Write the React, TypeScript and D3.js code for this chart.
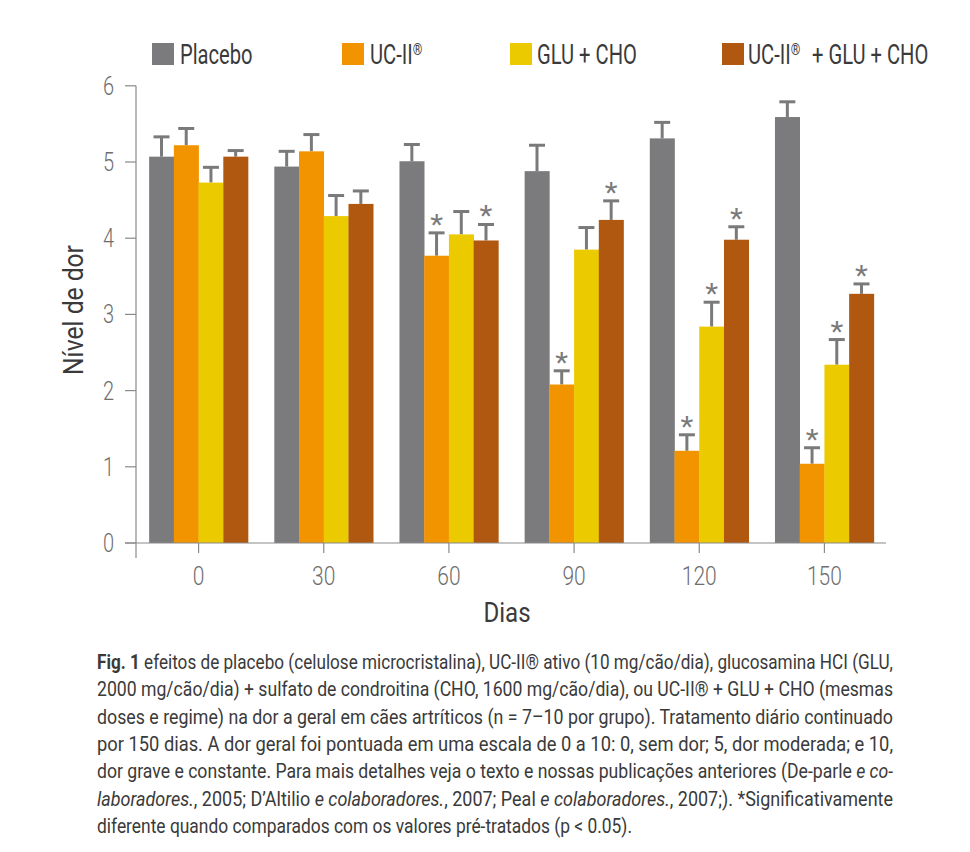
import React from "react";
import * as d3 from "d3";

const days = ["0", "30", "60", "90", "120", "150"];
const seriesNames = ["Placebo", "UC-II®", "GLU+CHO", "UC-II®  +GLU+CHO"];
const placebo = [5.07, 4.94, 5.01, 4.88, 5.31, 5.59];
const placeboErr = [0.26, 0.2, 0.22, 0.34, 0.21, 0.2];
const ucii = [5.22, 5.14, 3.77, 2.08, 1.21, 1.04];
const uciiErr = [0.22, 0.22, 0.3, 0.18, 0.21, 0.21];
const gluCho = [4.73, 4.29, 4.05, 3.85, 2.84, 2.34];
const gluChoErr = [0.2, 0.27, 0.3, 0.29, 0.32, 0.33];
const combo = [5.07, 4.45, 3.97, 4.24, 3.98, 3.27];
const comboErr = [0.08, 0.17, 0.21, 0.25, 0.17, 0.13];
const placeboSig = [false, false, false, false, false, false];
const uciiSig = [false, false, true, true, true, true];
const gluChoSig = [false, false, false, false, true, true];
const comboSig = [false, false, true, true, true, true];
const yTicks = [0, 1, 2, 3, 4, 5, 6];
const colors = ["#7b7b7d", "#f29400", "#ecca00", "#b0580f"];

const seriesValues = [placebo, ucii, gluCho, combo];
const seriesErrs = [placeboErr, uciiErr, gluChoErr, comboErr];
const seriesSig = [placeboSig, uciiSig, gluChoSig, comboSig];

const FONT = "Roboto, 'Liberation Sans', sans-serif";
const SX = 0.72;

function CText({ x, y, sx = SX, anchor = "start", rotate = 0, children, ...rest }: any) {
  return (
    <text
      transform={`translate(${x},${y}) rotate(${rotate}) scale(${sx},1)`}
      textAnchor={anchor}
      fontFamily={FONT}
      {...rest}
    >
      {children}
    </text>
  );
}

const captionLines: { parts: { t: string; b?: boolean; i?: boolean }[]; w: number }[] = [
  { parts: [{ t: "Fig. 1", b: true }, { t: " efeitos de placebo (celulose microcristalina), UC-II® ativo (10 mg/cão/dia), glucosamina HCI (GLU," }], w: 796 },
  { parts: [{ t: "2000 mg/cão/dia) + sulfato de condroitina (CHO, 1600 mg/cão/dia), ou UC-II® + GLU + CHO (mesmas" }], w: 796 },
  { parts: [{ t: "doses e regime) na dor a geral em cães artríticos (n = 7–10 por grupo). Tratamento diário continuado" }], w: 796 },
  { parts: [{ t: "por 150 dias. A dor geral foi pontuada em uma escala de 0 a 10: 0, sem dor; 5, dor moderada; e 10," }], w: 796 },
  { parts: [{ t: "dor grave e constante. Para mais detalhes veja o texto e nossas publicações anteriores (De-parle " }, { t: "e co-", i: true }], w: 796 },
  { parts: [{ t: "laboradores.", i: true }, { t: ", 2005; D’Altilio " }, { t: "e colaboradores.", i: true }, { t: ", 2007; Peal " }, { t: "e colaboradores.", i: true }, { t: ", 2007;). *Significativamente" }], w: 796 },
  { parts: [{ t: "diferente quando comparados com os valores pré-tratados (p < 0.05)." }], w: 535 },
];
const CAP_SX = 0.84;

export default function App() {
  const W = 970, H = 852;
  const x0 = d3.scaleBand<string>().domain(days).range([136, 887]).paddingInner(0.21).paddingOuter(0.105);
  const x1 = d3.scaleBand<number>().domain([0, 1, 2, 3]).range([0, x0.bandwidth()]);
  const y = d3.scaleLinear().domain([0, 6]).range([543, 85.8]);
  const axisColor = "#8a8a8a";
  const errColor = "#7a7a7a";

  const legendX = [152, 342, 510, 722];

  return (
    <svg width={W} height={H} style={{ position: "absolute", left: 0, top: 0, background: "#fff" }}>
      {/* legend */}
      {seriesNames.map((n, i) => (
        <g key={n}>
          <rect x={legendX[i]} y={43} width={22} height={22} fill={colors[i]} />
          {i === 0 && <CText x={legendX[i] + 28} y={64} fontSize={28} fill="#3a3a3a">Placebo</CText>}
          {i === 1 && (
            <CText x={legendX[i] + 28} y={64} fontSize={28} fill="#3a3a3a">
              UC-II<tspan fontSize={17} dy={-9}>®</tspan>
            </CText>
          )}
          {i === 2 && <CText x={legendX[i] + 27} y={64} fontSize={28} fill="#3a3a3a">GLU + CHO</CText>}
          {i === 3 && (
            <g>
              <CText x={legendX[i] + 26} y={64} fontSize={28} fill="#3a3a3a">
                UC-II<tspan fontSize={17} dy={-9}>®</tspan>
              </CText>
              <CText x={812} y={64} fontSize={28} fill="#3a3a3a">+ GLU + CHO</CText>
            </g>
          )}
        </g>
      ))}

      {/* bars */}
      {days.map((d, di) => (
        <g key={d} transform={`translate(${x0(d)},0)`}>
          {seriesValues.map((vals, si) => {
            const v = vals[di];
            const e = seriesErrs[si][di];
            const bx = x1(si)!;
            const bw = x1.bandwidth();
            const cx = bx + bw / 2;
            const top = y(v + e);
            return (
              <g key={si}>
                <line x1={cx} x2={cx} y1={y(v)} y2={top} stroke={errColor} strokeWidth={3} />
                <line x1={cx - 8} x2={cx + 8} y1={top} y2={top} stroke={errColor} strokeWidth={3} />
                <rect x={bx} y={y(v)} width={bw + 0.3} height={y(0) - y(v)} fill={colors[si]} />
                {seriesSig[si][di] && (
                  <CText x={cx} y={top + 1} sx={1.1} anchor="middle" fontSize={27} fill="#7a7a7a">*</CText>
                )}
              </g>
            );
          })}
        </g>
      ))}

      {/* axes */}
      <line x1={136} x2={136} y1={y(6)} y2={558} stroke={axisColor} strokeWidth={1.2} />
      <line x1={125} x2={886} y1={y(0)} y2={y(0)} stroke={axisColor} strokeWidth={1.2} />
      {yTicks.map((t) => (
        <g key={t}>
          <line x1={125} x2={136} y1={y(t)} y2={y(t)} stroke={axisColor} strokeWidth={1.2} />
          <CText x={114} y={y(t) + 9} sx={0.8} anchor="end" fontSize={25} fontWeight={300} fill="#6e6e6e">{t}</CText>
        </g>
      ))}
      {days.map((d) => {
        const cx = x0(d)! + x0.bandwidth() / 2;
        return (
          <g key={d}>
            <line x1={cx} x2={cx} y1={y(0)} y2={553} stroke={axisColor} strokeWidth={1.2} />
            <CText x={cx} y={585} sx={0.84} anchor="middle" fontSize={25} fontWeight={300} fill="#6e6e6e">{d}</CText>
          </g>
        );
      })}
      <CText x={507} y={622} sx={0.86} anchor="middle" fontSize={28} fill="#3a3a3a">Dias</CText>
      <CText x={83} y={310} sx={0.88} anchor="middle" rotate={-90} fontSize={28} fill="#3a3a3a">Nível de dor</CText>

      {/* caption */}
      {captionLines.map((ln, li) => (
        <text
          key={li}
          transform={`translate(97,${669 + li * 27.3}) scale(${CAP_SX},1)`}
          fontFamily={FONT}
          fontSize={20}
          fill="#3a3a3a"
          textLength={ln.w / CAP_SX}
          lengthAdjust="spacingAndGlyphs"
        >
          {ln.parts.map((p, pi) => (
            <tspan key={pi} fontWeight={p.b ? 700 : 400} fontStyle={p.i ? "italic" : "normal"}>
              {p.t}
            </tspan>
          ))}
        </text>
      ))}
    </svg>
  );
}
